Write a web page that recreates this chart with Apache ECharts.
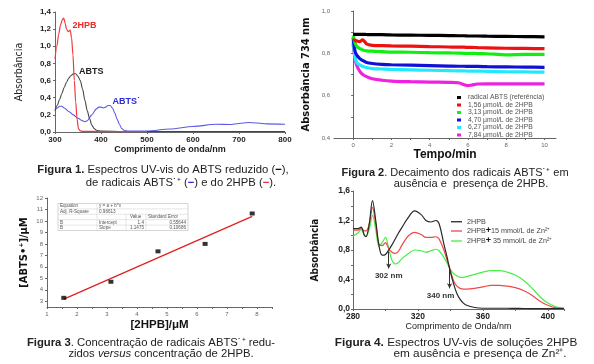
<!DOCTYPE html>
<html><head><meta charset="utf-8">
<script src="https://cdn.jsdelivr.net/npm/echarts@6/dist/echarts.min.js"></script>
<style>html,body{margin:0;padding:0;background:#fff}#c{width:594px;height:364px}</style>
</head><body><div id="c"></div>
<script>
// ---------- Figura 1 : UV-vis spectra ----------
const f1HpbX = [300,304,308,312,316,319,322,325,329,333,336,339,342,345,348,351,355,360,400,500];
const f1HpbY = [0.85,1.0,1.14,1.25,1.31,1.33,1.27,1.2,1.17,1.19,1.1,0.9,0.6,0.35,0.15,0.04,0.012,0.008,0.005,0.005];
const f1AbtsX = [300,305,310,315,320,325,330,335,340,345,350,355,360,365,370,375,380,385,390,400,450,500,600,700,800];
const f1AbtsY = [0.25,0.31,0.38,0.45,0.52,0.58,0.63,0.66,0.68,0.68,0.65,0.6,0.5,0.37,0.25,0.16,0.08,0.04,0.02,0.01,0.006,0.005,0.005,0.005,0.005];
const f1RadX = [300,305,310,315,320,330,340,350,360,365,370,380,390,395,400,405,410,415,420,425,430,435,440,445,450,460,500,550,600,650,680,700,720,740,760,800];
const f1RadY = [0.25,0.28,0.30,0.30,0.28,0.24,0.2,0.16,0.13,0.12,0.13,0.2,0.27,0.29,0.29,0.28,0.29,0.31,0.31,0.28,0.22,0.15,0.09,0.04,0.02,0.01,0.01,0.035,0.065,0.09,0.088,0.1,0.11,0.105,0.095,0.09];
const f1Labels = [{x:337,y:1.24,t:'2HPB',c:'#ee2a2a'},{x:351,y:0.71,t:'ABTS',c:'#222'},{x:424,y:0.35,t:'ABTS˙',c:'#2b2bd8'}];

// ---------- Figura 2 : decay at 734 nm ----------
const f2Time = [0,0.1,0.2,0.35,0.5,0.7,1,1.5,2,3,4,5,5.5,5.8,6,6.2,6.5,7,8,9,10];
const f2Names = ['radical ABTS (referência)','1,56 μmol/L de 2HPB','3,13 μmol/L de 2HPB','4,70 μmol/L de 2HPB','6,27 μmol/L de 2HPB','7,84 μmol/L de 2HPB'];
const f2Ref  = [0.89,0.89,0.89,0.89,0.89,0.889,0.888,0.888,0.887,0.886,0.885,0.884,0.883,0.883,0.882,0.882,0.882,0.881,0.880,0.879,0.878];
const f2C156 = [0.866,0.862,0.858,0.855,0.864,0.845,0.838,0.836,0.835,0.834,0.832,0.830,0.829,0.829,0.828,0.828,0.827,0.826,0.824,0.823,0.822];
const f2C313 = [0.885,0.85,0.832,0.822,0.816,0.812,0.810,0.808,0.806,0.805,0.803,0.802,0.801,0.800,0.800,0.800,0.799,0.798,0.793,0.795,0.795];
const f2C470 = [0.875,0.81,0.79,0.775,0.766,0.757,0.752,0.748,0.746,0.744,0.742,0.740,0.739,0.739,0.738,0.738,0.738,0.737,0.736,0.735,0.734];
const f2C627 = [0.86,0.78,0.755,0.745,0.738,0.733,0.728,0.726,0.724,0.722,0.72,0.718,0.717,0.717,0.716,0.716,0.716,0.715,0.713,0.712,0.711];
const f2C784 = [0.845,0.775,0.74,0.715,0.70,0.69,0.68,0.673,0.669,0.666,0.664,0.663,0.661,0.652,0.647,0.650,0.655,0.656,0.656,0.656,0.656];
const f2Colors = ['#000000','#ee1111','#11ee11','#1010d8','#22e8ff','#ee22e0'];

// ---------- Figura 3 : linear fit ----------
const f3X = [1.56,3.13,4.70,6.27,7.84];
const f3Y = [3.3,4.7,7.35,8.0,10.65];
const f3FitX = [1.56,7.84];
const f3FitY = [3.19,10.4];
const f3Table = [
  ['Equation','y = a + b*x','',''],
  ['Adj. R-Square','0.96613','',''],
  ['','','Value','Standard Error'],
  ['B','Intercept','1.4','0.55644'],
  ['B','Slope','1.1475','0.10686']
];

// ---------- Figura 4 : spectra with Zn2+ ----------
const f4Wl = [280,283,285,287,288,290,292,294,296,298,300,302,304,306,308,310,314,318,322,325,328,331,333,336,338,340,342,344,346,348,350,355,360,365,370,375,380,385,390,395,400,405,410];
const f4Hpb = [1.09,1.09,1.11,1.0,0.98,1.15,1.47,1.2,0.86,0.73,0.74,0.8,0.87,0.95,1.03,1.1,1.24,1.33,1.28,1.2,1.18,1.2,1.16,0.88,0.7,0.5,0.34,0.21,0.13,0.08,0.05,0.02,0.01,0.01,0.01,0.01,0.008,0.007,0.006,0.005,0.005,0.005,0.005];
const f4Zn15 = [1.07,1.07,1.09,1.06,1.06,1.15,1.38,1.15,0.88,0.86,0.9,0.82,0.77,0.755,0.78,0.86,0.99,1.04,1.01,0.97,0.97,0.98,0.95,0.8,0.66,0.52,0.38,0.31,0.28,0.27,0.27,0.28,0.3,0.32,0.32,0.31,0.29,0.25,0.19,0.11,0.05,0.015,0.01];
const f4Zn35 = [0.99,1.03,1.08,1.0,0.99,1.08,1.27,1.08,0.85,0.9,0.97,0.82,0.66,0.61,0.63,0.68,0.75,0.8,0.79,0.77,0.79,0.81,0.79,0.7,0.62,0.54,0.48,0.45,0.43,0.43,0.44,0.47,0.5,0.52,0.52,0.5,0.46,0.39,0.29,0.17,0.08,0.03,0.01];
const f4Names = ['2HPB','2HPB+15 mmol/L de Zn²⁺','2HPB+ 35 mmol/L de Zn²⁺'];
const f4Arrows = [{nm:302,from:0.78,to:0.55,t:'302 nm',dx:0},{nm:339.5,from:0.58,to:0.28,t:'340 nm',dx:-9}];

const zip = (a,b) => a.map((v,i)=>[v,b[i]]);
const comma = (d) => (v) => v.toFixed(d).replace('.',',');
const FONT = 'Liberation Sans, Arial, sans-serif';
const NARROW = 'Liberation Sans Narrow, Arial Narrow, DejaVu Sans Condensed, sans-serif';

function axis(o){
  return Object.assign({
    type:'value', scale:false,
    axisLine:{show:true,lineStyle:{color:'#666',width:1}},
    axisTick:{show:true,length:2,lineStyle:{color:'#666'}},
    splitLine:{show:false},
    nameLocation:'middle'
  }, o);
}

const chart = echarts.init(document.getElementById('c'), null, {renderer:'canvas'});

const series = [];
// fig1
series.push({type:'line',name:'f1a',xAxisIndex:0,yAxisIndex:0,data:zip(f1RadX,f1RadY),showSymbol:false,smooth:0.3,smoothMonotone:'x',lineStyle:{color:'#5a5ae6',width:1.1},z:2});
series.push({type:'line',name:'f1b',xAxisIndex:0,yAxisIndex:0,data:zip(f1AbtsX,f1AbtsY),showSymbol:false,smooth:0.3,smoothMonotone:'x',lineStyle:{color:'#444',width:1.1},z:3});
series.push({type:'line',name:'f1c',xAxisIndex:0,yAxisIndex:0,data:zip(f1HpbX,f1HpbY),showSymbol:false,smooth:0.3,smoothMonotone:'x',lineStyle:{color:'#f03a3a',width:1.2},z:4,
  markPoint:{symbol:'rect',symbolSize:1,itemStyle:{color:'rgba(0,0,0,0)'},
    data:f1Labels.map(l=>({coord:[l.x,l.y],label:{show:true,position:'right',distance:0,formatter:l.t,color:l.c,fontWeight:'bold',fontSize:9,fontFamily:FONT}}))}});
// fig2
[f2Ref,f2C156,f2C313,f2C470,f2C627,f2C784].forEach((arr,i)=>{
  series.push({type:'line',name:f2Names[i],xAxisIndex:1,yAxisIndex:1,data:zip(f2Time,arr),showSymbol:false,smooth:0.3,
    itemStyle:{color:f2Colors[i]},lineStyle:{color:f2Colors[i],width:3.2},z:10-i});
});
// fig3
series.push({type:'line',name:'fit',xAxisIndex:2,yAxisIndex:2,data:zip(f3FitX,f3FitY),showSymbol:false,lineStyle:{color:'#dd2020',width:1.2}});
series.push({type:'scatter',name:'pts',xAxisIndex:2,yAxisIndex:2,data:zip(f3X,f3Y),symbol:'rect',symbolSize:[5,4],itemStyle:{color:'#000'},z:5});
// fig4
const f4Colors = ['#2a2a2a','#f04848','#48ee48'];
[f4Hpb,f4Zn15,f4Zn35].forEach((arr,i)=>{
  const s = {type:'line',name:f4Names[i],xAxisIndex:3,yAxisIndex:3,data:zip(f4Wl,arr),showSymbol:false,smooth:0.35,
    itemStyle:{color:f4Colors[i]},lineStyle:{color:f4Colors[i],width:1.2},z:5-i};
  if(i===0){
    s.markLine = {silent:true,symbol:['none','arrow'],symbolSize:[4,5],
      lineStyle:{color:'#333',width:1,type:'solid'},
      data:f4Arrows.map(a=>[{coord:[a.nm,a.from]},{coord:[a.nm,a.to],
        label:{show:true,position:'end',distance:3,formatter:a.t,offset:[a.dx,0],color:'#333',fontSize:8,fontWeight:'bold',fontFamily:FONT}}])};
  }
  series.push(s);
});

// table for figure 3
const tX = [58,97,126,146,188];
const tY0 = 203.5, tRH = 5.4;
const tableEls = [];
tableEls.push({type:'rect',shape:{x:tX[0],y:tY0,width:tX[4]-tX[0],height:tRH*5},style:{fill:'#fff',stroke:'#bbb',lineWidth:0.6}});
for(let r=1;r<5;r++) tableEls.push({type:'line',shape:{x1:tX[0],y1:tY0+r*tRH,x2:tX[4],y2:tY0+r*tRH},style:{stroke:'#ccc',lineWidth:0.5}});
tableEls.push({type:'line',shape:{x1:tX[1],y1:tY0,x2:tX[1],y2:tY0+5*tRH},style:{stroke:'#ccc',lineWidth:0.5}});
tableEls.push({type:'line',shape:{x1:tX[2],y1:tY0+2*tRH,x2:tX[2],y2:tY0+5*tRH},style:{stroke:'#ccc',lineWidth:0.5}});
tableEls.push({type:'line',shape:{x1:tX[3],y1:tY0+2*tRH,x2:tX[3],y2:tY0+5*tRH},style:{stroke:'#ccc',lineWidth:0.5}});
f3Table.forEach((row,r)=>{
  row.forEach((cell,c)=>{
    if(!cell) return;
    const right = (r>=3 && c>=2);
    const x = right ? tX[c+1]-2 : tX[c]+2 + (r===2 && c===2 ? 2 : 0);
    tableEls.push({type:'text',x:x,y:tY0+r*tRH+tRH/2,style:{text:cell,fontSize:4.6,fontFamily:FONT,fill:'#555',align:right?'right':'left',verticalAlign:'middle'}});
  });
});

function capRich(fs){
  return {
    b:{fontWeight:'bold',fontSize:fs,fontFamily:FONT,fill:'#222'},
    i:{fontStyle:'italic',fontSize:fs,fontFamily:FONT,fill:'#222'},
    k:{fontWeight:'bold',fontSize:fs,fontFamily:FONT,fill:'#000'},
    bl:{fontWeight:'bold',fontSize:fs,fontFamily:FONT,fill:'#2b2bd8'},
    r:{fontWeight:'bold',fontSize:fs,fontFamily:FONT,fill:'#ee2a2a'}
  };
}
function cap(x,y,text,fs){
  return {type:'text',x:x,y:y,style:{text:text,rich:capRich(fs),fontSize:fs,fontFamily:FONT,fill:'#222',align:'center',verticalAlign:'middle'}};
}

const option = {
  animation:false,
  backgroundColor:'#fff',
  grid:[
    {left:55,top:12,width:230,height:120},
    {left:334,top:11,width:222,height:127},
    {left:47,top:198,width:225,height:109},
    {left:353,top:191,width:211,height:118}
  ],
  xAxis:[
    axis({gridIndex:0,min:300,max:800,interval:100,name:'Comprimento de onda/nm',nameGap:13,
      nameTextStyle:{fontSize:9,fontWeight:'bold',fontFamily:FONT,color:'#222'},
      axisLabel:{fontSize:8,fontWeight:'bold',color:'#222',fontFamily:FONT,margin:4}}),
    axis({gridIndex:1,min:-1,max:10.6,name:'Tempo/min',nameGap:11,
      nameTextStyle:{fontSize:12,fontWeight:'bold',fontFamily:FONT,color:'#111'},
      axisTick:{show:true,length:2,lineStyle:{color:'#666'},customValues:[0,1,2,3,4,5,6,7,8,9,10]},
      axisLabel:{fontSize:6,color:'#666',fontFamily:FONT,margin:4,customValues:[0,2,4,6,8,10]}}),
    axis({gridIndex:2,min:1,max:8.5,name:'[2HPB]/μM',nameGap:12,
      nameTextStyle:{fontSize:11.5,fontWeight:'bold',fontFamily:FONT,color:'#111'},
      axisTick:{show:true,length:2,lineStyle:{color:'#666'},customValues:[1,1.5,2,2.5,3,3.5,4,4.5,5,5.5,6,6.5,7,7.5,8,8.5]},
      axisLabel:{fontSize:6,color:'#666',fontFamily:FONT,margin:4,customValues:[1,2,3,4,5,6,7,8]}}),
    axis({gridIndex:3,min:280,max:410,interval:40,name:'Comprimento de Onda/nm',nameGap:13,
      nameTextStyle:{fontSize:9,fontFamily:FONT,color:'#222'},
      minorTick:{show:true,splitNumber:2,length:2,lineStyle:{color:'#666'}},
      axisLabel:{fontSize:8.5,fontWeight:'bold',color:'#222',fontFamily:FONT,margin:3,showMaxLabel:false}})
  ],
  yAxis:[
    axis({gridIndex:0,min:0,max:1.4,interval:0.2,name:'Absorbância',nameGap:30,
      nameTextStyle:{fontSize:10.5,fontFamily:NARROW,color:'#222'},
      axisLabel:{fontSize:8,fontWeight:'bold',color:'#222',fontFamily:FONT,margin:4,formatter:comma(1)}}),
    axis({gridIndex:1,min:0.4,max:1.0,interval:0.2,name:'Absorbância 734 nm',nameGap:22,
      nameTextStyle:{fontSize:11,fontWeight:'bold',fontFamily:NARROW,color:'#111'},
      minorTick:{show:true,splitNumber:2,length:2,lineStyle:{color:'#666'}},
      axisLabel:{fontSize:6,color:'#666',fontFamily:FONT,margin:4,formatter:comma(1)}}),
    axis({gridIndex:2,min:2.5,max:12,name:'[ABTS•⁺]/μM',nameGap:17,
      nameTextStyle:{fontSize:11,fontWeight:'bold',fontFamily:NARROW,color:'#111'},
      axisTick:{show:true,length:2,lineStyle:{color:'#666'},customValues:[3,4,5,6,7,8,9,10,11,12]},
      axisLabel:{fontSize:6,color:'#666',fontFamily:FONT,margin:4,customValues:[3,4,5,6,7,8,9,10,11,12]}}),
    axis({gridIndex:3,min:0,max:1.6,interval:0.4,name:'Absorbância',nameGap:33,
      nameTextStyle:{fontSize:10,fontWeight:'bold',fontFamily:NARROW,color:'#111'},
      minorTick:{show:true,splitNumber:2,length:2,lineStyle:{color:'#666'}},
      axisLabel:{fontSize:8.5,fontWeight:'bold',color:'#222',fontFamily:FONT,margin:3,formatter:comma(1)}})
  ],
  legend:[
    {data:f2Names,orient:'vertical',left:457,top:94,padding:0,icon:'rect',itemWidth:4,itemHeight:3,itemGap:0.5,
      textStyle:{fontSize:6.8,color:'#555',fontFamily:FONT,lineHeight:6.5,padding:[0,0,0,2]},selectedMode:false},
    {data:f4Names,orient:'vertical',left:451,top:218,padding:0,icon:'rect',itemWidth:11,itemHeight:1.3,itemGap:1,
      textStyle:{fontSize:7.2,color:'#444',fontFamily:FONT,lineHeight:7.5,padding:[0,0,0,0],
        rich:{p:{fontSize:9,fontWeight:'bold',color:'#111'},n:{fontSize:7.2,color:'#444',fontFamily:FONT}}},
      formatter:(n)=>n.indexOf('+')>0 ? '{n|'+n.split('+')[0]+'}{p|+}{n|'+n.split('+')[1]+'}' : '{n|'+n+'}',
      selectedMode:false}
  ],
  series:series,
  graphic:[
    {type:'group',children:tableEls},
    cap(163,170,'{b|Figura 1.} Espectros UV-vis do ABTS reduzido ({k|−}),',11.3),
    cap(181,183,'de radicais ABTS˙⁺ ({bl|−}) e do 2HPB ({r|−}).',11.3),
    cap(455,173,'{b|Figura 2}. Decaimento dos radicais ABTS˙⁺ em',11),
    cap(471,184,'ausência e  presença de 2HPB.',11),
    cap(151,343,'{b|Figura 3}. Concentração de radicais ABTS˙⁺ redu-',11.3),
    cap(161,354,'zidos {i|versus} concentração de 2HPB.',11.3),
    cap(456,343,'{b|Figura 4.} Espectros UV-vis de soluções 2HPB',11.8),
    cap(480,354,'em ausência e presença de Zn²⁺.',11.8)
  ]
};
chart.setOption(option);
</script></body></html>
